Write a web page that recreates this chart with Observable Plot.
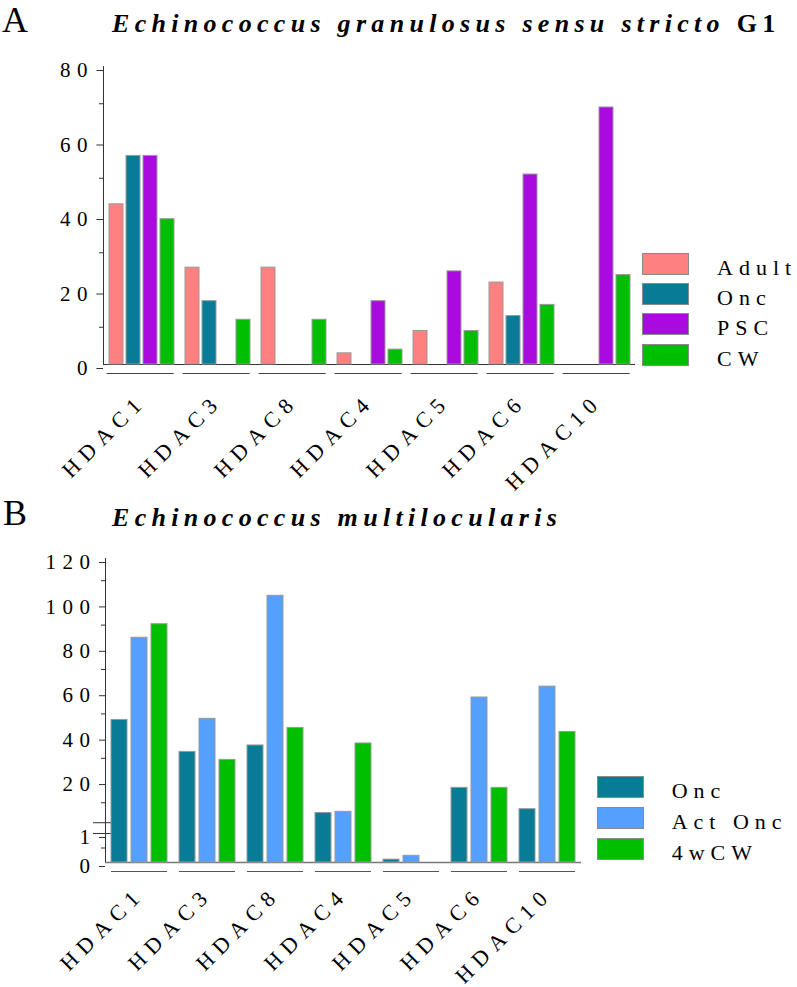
<!DOCTYPE html>
<html><head><meta charset="utf-8">
<script src="https://cdn.jsdelivr.net/npm/d3@7"></script>
<script src="https://cdn.jsdelivr.net/npm/@observablehq/plot@0.6"></script>
<style>
body{margin:0;background:#fff;font-family:"Liberation Serif","Times New Roman",Times,serif;color:#000;}
#page{position:relative;width:797px;height:987px;overflow:hidden;background:#fff;}
.abs{position:absolute;}
.letter{font-size:36px;line-height:36px;white-space:nowrap;}
.title{font-size:26px;line-height:26px;font-weight:bold;font-style:italic;letter-spacing:5.3px;white-space:nowrap;}
.title .up{font-style:normal;}
.ylab{font-size:26px;line-height:26px;font-weight:bold;letter-spacing:8px;transform:translate(-50%,-50%) rotate(-90deg);white-space:nowrap;}
.sw{position:absolute;left:0;top:0;width:47px;height:22px;box-sizing:border-box;border:1px solid #8a8a8a;}
.lt{position:absolute;left:75px;top:4px;font-size:22px;line-height:22px;letter-spacing:6px;white-space:nowrap;}
svg text{letter-spacing:6.5px;}
svg g[aria-label="text"] text{letter-spacing:7px;}
</style>
</head><body>
<div id="page"></div>
<script>
// ---------- Data ----------
const groupsA = ["HDAC1","HDAC3","HDAC8","HDAC4","HDAC5","HDAC6","HDAC10"];
const seriesA = ["Adult","Onc","PSC","CW"];
const adultA = [43, 26, 26, 3, 9, 22, 0];
const oncA   = [56, 17, 0, 0, 0, 13, 0];
const pscA   = [56, 0, 0, 17, 25, 51, 69];
const cwA    = [39, 12, 12, 4, 9, 16, 24];
const colorsA = ["#ff8080","#087c97","#aa0adf","#00bf00"];
const ticksA = [0, 20, 40, 60, 80];
const minorA = [10, 30, 50, 70];

const groupsB = ["HDAC1","HDAC3","HDAC8","HDAC4","HDAC5","HDAC6","HDAC10"];
const seriesB = ["Onc","Act Onc","4wCW"];
const oncB    = [47.3, 32.9, 35.8, 5.4, 0.1, 16.7, 7.1];
const actOncB = [84.3, 47.8, 103.2, 5.9, 0.23, 57.4, 62.3];
const cw4B    = [90.4, 29.3, 43.7, 36.7, 0, 16.7, 41.9];
const colorsB = ["#087c97","#55a0ff","#00bf00"];
const ticksB = [0, 1, 20, 40, 60, 80, 100, 120];
const minorB = [0.5, 10, 30, 50, 70, 90, 110];

// broken y axis for panel B: 0..1 stretched, gap, then 1..120 compressed
const breakGap = 0.372, upperRatio = 0.0766;
const fB = v => v <= 1 ? v : 1 + breakGap + (v - 1) * upperRatio;

const tableA = groupsA.flatMap((g, i) => [adultA, oncA, pscA, cwA].map((arr, j) => ({group: g, series: seriesA[j], value: arr[i]})));
const tableB = groupsB.flatMap((g, i) => [oncB, actOncB, cw4B].map((arr, j) => ({group: g, series: seriesB[j], value: arr[i]})));

const page = document.getElementById("page");
function el(cls, css, html) {
  const d = document.createElement("div");
  d.className = "abs " + cls;
  Object.assign(d.style, css);
  d.innerHTML = html;
  page.appendChild(d);
  return d;
}
const fontStyle = {fontFamily: '"Liberation Serif", "Times New Roman", Times, serif', fontSize: "21px", background: "white", color: "#000", overflow: "visible"};

// ---------- Panel A ----------
el("letter", {left: "2px", top: "2px"}, "A");
el("title", {left: "112px", top: "11px"}, 'Echinococcus granulosus sensu stricto <span class="up">G1</span>');
el("ylab", {left: "23px", top: "220px"}, "RPKM");

const plotA = Plot.plot({
  width: 797, height: 445,
  marginTop: 16, marginBottom: 131, marginLeft: 103, marginRight: 162,
  style: fontStyle,
  fx: {domain: groupsA, padding: 0, axis: null},
  x: {domain: seriesA, paddingInner: 0.19, paddingOuter: 0.305, axis: null},
  y: {domain: [0, 80]},
  color: {domain: seriesA, range: colorsA},
  marks: [
    Plot.axisY(ticksA, {tickSize: 6.6, tickPadding: 3, dy: 4, fontSize: 21, label: null, stroke: "#333"}),
    Plot.axisY(minorA, {tickSize: 4, tickFormat: () => "", label: null, stroke: "#333"}),
    Plot.frame({anchor: "left", facetAnchor: "left", stroke: "#333"}),
    Plot.ruleY([0], {stroke: "#333"}),
    Plot.ruleY([0], {dy: 9, insetLeft: 3.6, insetRight: 5.3, stroke: "#444"}),
    Plot.barY(tableA.filter(d => d.value > 0), {fx: "group", x: "series", y: "value", fill: "series", stroke: "#999", strokeWidth: 1}),
    Plot.text(groupsA, {fx: d => d, text: d => d, frameAnchor: "bottom", rotate: -45, textAnchor: "end", dy: 38, dx: 6, fontSize: 22})
  ]
});
const wrapA = el("", {left: "0px", top: "50px"}, "");
wrapA.appendChild(plotA);

const legA = el("", {left: "642px", top: "252.7px", width: "160px", height: "125px"}, "");
seriesA.forEach((s, i) => {
  const r = document.createElement("div");
  r.style.cssText = `position:absolute;left:0;top:${i * 30.4}px;height:22px;width:160px;`;
  r.innerHTML = `<div class="sw" style="background:${colorsA[i]}"></div><div class="lt">${s}</div>`;
  legA.appendChild(r);
});

// ---------- Panel B ----------
el("letter", {left: "3px", top: "495px"}, "B");
el("title", {left: "112px", top: "505px"}, "Echinococcus multilocularis");
el("ylab", {left: "23px", top: "706px"}, "RPKM");

const labelB = new Map(ticksB.map(v => [fB(v), String(v)]));
const plotB = Plot.plot({
  width: 797, height: 447,
  marginTop: 18, marginBottom: 125, marginLeft: 103, marginRight: 213.8,
  style: fontStyle,
  fx: {domain: groupsB, padding: 0, axis: null},
  x: {domain: seriesB, paddingInner: 0.21, paddingOuter: 0.30, axis: null},
  y: {domain: [0, fB(120)]},
  color: {domain: seriesB, range: colorsB},
  marks: [
    Plot.axisY(ticksB.map(fB), {tickSize: 6, tickPadding: 3, dy: 4, fontSize: 21, label: null, stroke: "#333", tickFormat: d => labelB.get(d)}),
    Plot.axisY(minorB.map(fB), {tickSize: 4, tickFormat: () => "", label: null, stroke: "#333"}),
    Plot.frame({anchor: "left", facetAnchor: "left", stroke: "#333"}),
    Plot.ruleY([1, 1 + breakGap], {fx: () => groupsB[0], insetLeft: -12, insetRight: 58, stroke: "#333"}),
    Plot.ruleY([0], {stroke: "#777", strokeWidth: 1.5}),
    Plot.ruleY([0], {dy: 9, insetLeft: 6, insetRight: 6, stroke: "#555"}),
    Plot.barY(tableB.filter(d => d.value > 0), {fx: "group", x: "series", y: d => fB(d.value), fill: "series", stroke: "#999", strokeWidth: 1}),
    Plot.text(groupsB, {fx: d => d, text: d => d, frameAnchor: "bottom", rotate: -45, textAnchor: "end", dy: 33, dx: 6, fontSize: 22})
  ]
});
const wrapB = el("", {left: "0px", top: "540px"}, "");
wrapB.appendChild(plotB);

const legB = el("", {left: "596.7px", top: "776px", width: "200px", height: "100px"}, "");
seriesB.forEach((s, i) => {
  const r = document.createElement("div");
  r.style.cssText = `position:absolute;left:0;top:${i * 31.2}px;height:22px;width:200px;`;
  r.innerHTML = `<div class="sw" style="background:${colorsB[i]}"></div><div class="lt">${s}</div>`;
  legB.appendChild(r);
});
</script>
</body></html>
